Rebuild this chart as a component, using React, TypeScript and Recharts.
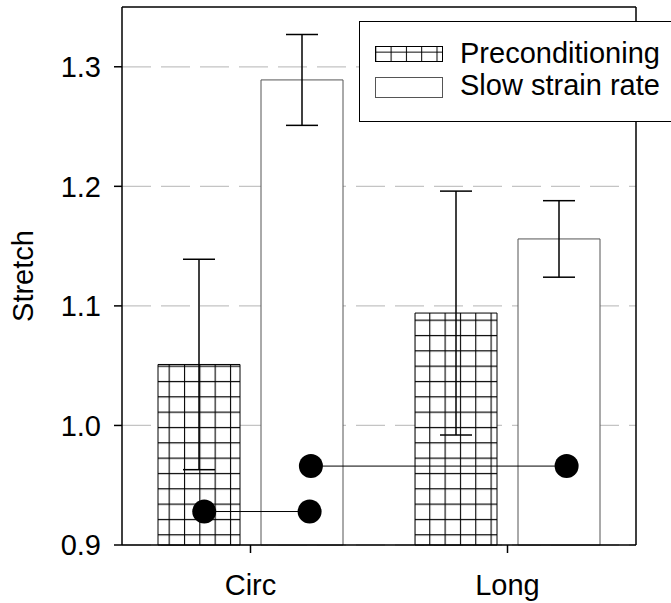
import {
  Bar,
  CartesianGrid,
  ComposedChart,
  ErrorBar,
  Label,
  Legend,
  ReferenceLine,
  Scatter,
  XAxis,
  YAxis,
} from "recharts";

const CATEGORIES = ["Circ", "Long"];
const PRECOND = [1.051, 1.094];
const PRECOND_ERR = [0.088, 0.102];
const SLOW = [1.289, 1.156];
const SLOW_ERR = [0.038, 0.032];
const Y_TICKS = [0.9, 1.0, 1.1, 1.2, 1.3];
const Y_MAX = 1.35;

// paired markers, x in category units (0..2 across the plot)
const PAIR_CIRC_X = [0.32, 0.73];
const PAIR_CIRC_Y = [0.928, 0.928];
const PAIR_LONG_X = [0.735, 1.73];
const PAIR_LONG_Y = [0.966, 0.966];

const FONT = "'Liberation Sans', Arial, sans-serif";

const data = CATEGORIES.map((cat, i) => ({
  cat,
  precond: PRECOND[i],
  precondErr: PRECOND_ERR[i],
  slow: SLOW[i],
  slowErr: SLOW_ERR[i],
}));

const pairCirc = PAIR_CIRC_X.map((x, i) => ({ x, y: PAIR_CIRC_Y[i] }));
const pairLong = PAIR_LONG_X.map((x, i) => ({ x, y: PAIR_LONG_Y[i] }));

const Dot = (p: any) => <circle cx={p.cx} cy={p.cy} r={12} fill="#000" />;

function LegendBox() {
  return (
    <div
      style={{
        position: "relative",
        boxSizing: "border-box",
        width: 312,
        height: 101,
        border: "1px solid #000",
        borderRight: "none",
        background: "#fff",
        fontFamily: FONT,
        fontSize: 29,
        lineHeight: "29px",
        color: "#000",
      }}
    >
      <svg width={100} height={99} style={{ position: "absolute", left: 0, top: 0 }}>
        <defs>
          <pattern id="legendHatch" patternUnits="userSpaceOnUse" x={0} y={0} width={15.3} height={15.3}>
            <rect width={15.3} height={15.3} fill="#fff" />
            <path d="M0.5 0V15.3M0 14.8H15.3" stroke="#000" strokeWidth={1} />
          </pattern>
        </defs>
        <rect x={15.5} y={24.5} width={67} height={15} fill="url(#legendHatch)" stroke="#000" />
        <rect x={15.5} y={55.5} width={67} height={20} fill="#fff" stroke="#555" />
      </svg>
      <div style={{ position: "absolute", left: 100, top: 17, whiteSpace: "nowrap" }}>
        Preconditioning
      </div>
      <div style={{ position: "absolute", left: 100, top: 49, whiteSpace: "nowrap" }}>
        Slow strain rate
      </div>
    </div>
  );
}

export default function App() {
  return (
    <div style={{ position: "absolute", left: 0, top: 0, width: 671, height: 603, background: "#fff" }}>
      <ComposedChart
        width={671}
        height={603}
        data={data}
        margin={{ top: 7, right: 35, bottom: 0, left: 0 }}
        barCategoryGap={36}
        barGap={21}
      >
        <defs>
          <pattern id="hatch" patternUnits="userSpaceOnUse" x={0} y={13} width={15.33} height={15.33}>
            <rect width={15.33} height={15.33} fill="#fff" />
            <path d="M0.5 0V15.33M0 0.5H15.33" stroke="#000" strokeWidth={1.2} />
          </pattern>
        </defs>
        <CartesianGrid
          vertical={false}
          horizontalValues={Y_TICKS}
          stroke="#c4c4c4"
          strokeDasharray="29 10"
          strokeWidth={1.3}
        />
        <XAxis
          dataKey="cat"
          height={58}
          tickSize={8}
          tickMargin={21}
          tick={{ fill: "#000", fontSize: 29, fontFamily: FONT }}
          tickLine={{ stroke: "#000", strokeWidth: 1.5 }}
          axisLine={{ stroke: "#000", strokeWidth: 1.5 }}
        />
        <XAxis
          xAxisId="num"
          type="number"
          dataKey="x"
          domain={[0, 2]}
          orientation="top"
          height={0}
          tick={false}
          tickLine={false}
          axisLine={false}
        />
        <YAxis
          width={122}
          domain={[0.9, Y_MAX]}
          ticks={Y_TICKS}
          tickFormatter={(v: number) => v.toFixed(1)}
          tickSize={8}
          tickMargin={13}
          tick={{ fill: "#000", fontSize: 29, fontFamily: FONT }}
          tickLine={{ stroke: "#000", strokeWidth: 1.5 }}
          axisLine={{ stroke: "#000", strokeWidth: 1.5 }}
        >
          <Label
            content={(props: any) => {
              const vb = props.viewBox;
              const x = vb.x + 33;
              const y = vb.y + vb.height / 2;
              return (
                <text
                  x={x}
                  y={y}
                  transform={`rotate(-90, ${x}, ${y})`}
                  textAnchor="middle"
                  fontSize={29}
                  fontFamily={FONT}
                  fill="#000"
                >
                  Stretch
                </text>
              );
            }}
          />
        </YAxis>
        <Bar dataKey="precond" name="Preconditioning" fill="url(#hatch)" stroke="#000" strokeWidth={1} isAnimationActive={false}>
          <ErrorBar dataKey="precondErr" width={16} stroke="#000" strokeWidth={1.5} isAnimationActive={false} />
        </Bar>
        <Bar dataKey="slow" name="Slow strain rate" fill="#fff" stroke="#555" strokeWidth={1} isAnimationActive={false}>
          <ErrorBar dataKey="slowErr" width={16} stroke="#000" strokeWidth={1.5} isAnimationActive={false} />
        </Bar>
        <Scatter
          xAxisId="num"
          data={pairCirc}
          dataKey="y"
          line={{ stroke: "#000", strokeWidth: 1 }}
          shape={Dot}
          legendType="none"
          isAnimationActive={false}
        />
        <Scatter
          xAxisId="num"
          data={pairLong}
          dataKey="y"
          line={{ stroke: "#000", strokeWidth: 1 }}
          shape={Dot}
          legendType="none"
          isAnimationActive={false}
        />
        {/* plot frame: top and right edges */}
        <ReferenceLine y={Y_MAX} stroke="#000" strokeWidth={1.5} />
        <ReferenceLine xAxisId="num" x={2} stroke="#000" strokeWidth={1.5} />
        <Legend
          layout="vertical"
          align="center"
          verticalAlign="middle"
          content={() => <LegendBox />}
          wrapperStyle={{ left: 359, top: 21, width: 312, height: 101 }}
        />
      </ComposedChart>
    </div>
  );
}
